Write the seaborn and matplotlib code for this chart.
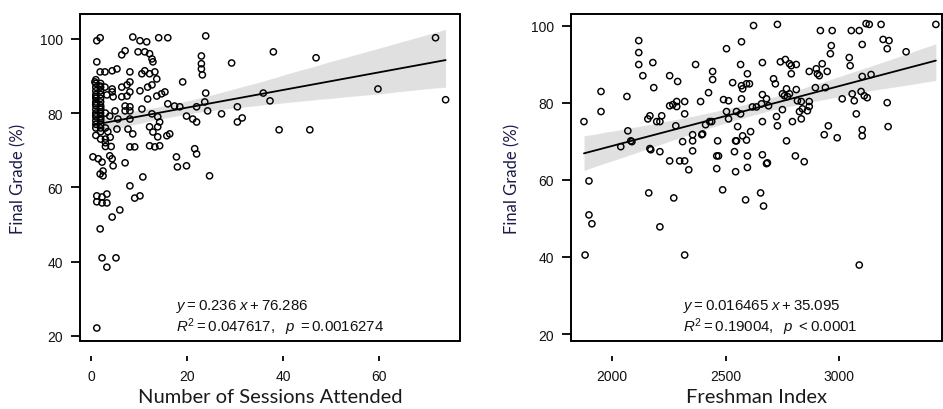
import numpy as np
import pandas as pd
import matplotlib
matplotlib.use("Agg")
import matplotlib.pyplot as plt
from matplotlib.patches import Rectangle
from matplotlib.collections import PolyCollection
from matplotlib import font_manager
import seaborn as sns

# ---------------- data ----------------
sessions = [1.2, 1.9, 8.7, 10.2, 11.6, 14.1, 16.0, 23.9,
            6.4, 7.1, 9.8, 11.2, 12.2, 12.7, 12.9, 1.2,
            23.0, 23.0, 23.0, 23.2, 29.3,
            1.9, 2.9, 4.4, 5.4, 8.1, 10.6, 11.2, 12.2, 13.3, 13.7,
            19.1,
            0.8, 1.9, 2.9, 4.4,
            6.4, 7.5, 8.1, 11.8, 12.7,
            4.4, 3.3, 4.6, 6.4, 7.5, 8.1, 10.2, 11.8, 13.7, 14.7, 15.4,
            16.0, 17.4, 18.5, 22.0, 7.1, 8.1, 7.1, 8.1, 10.6, 5.0,
            12.7, 13.9, 14.3, 19.9, 21.2, 22.0, 23.7, 24.3, 27.2, 23.9,
            3.9, 5.6, 8.1,
            30.5, 30.5, 31.5, 37.3, 35.9, 38.0, 46.9, 59.8, 71.8, 73.9, 39.2, 45.6,
            5.4, 7.7, 8.7, 12.2, 13.9, 12.9, 13.9, 15.8, 16.4,
            8.1, 9.1, 12.2, 13.3, 14.3, 21.6, 22.0,
            0.4, 1.5, 3.9, 4.4, 2.3, 2.5, 1.9, 2.5, 4.6, 7.1,
            17.8, 18.0, 19.9, 10.8, 8.1, 9.1, 10.2, 24.7,
            1.2, 2.3, 3.3, 1.2, 2.3, 3.3, 6.0, 4.4,
            1.9, 2.3, 3.3, 5.2, 1.2,
            1, 1, 1, 1, 1, 1, 1, 1, 1, 1, 1, 1, 1, 1, 1, 1, 1, 1,
            2, 2, 2, 2, 2, 2, 2, 2, 2, 2, 2, 2, 2, 2, 2, 2, 2,
            3, 3, 3, 3, 3.5, 4, 3, 4.2]
grade_sessions = [99.5, 100.3, 100.5, 99.5, 99.2, 100.3, 100.3, 100.8,
                  95.7, 96.8, 96.5, 96.5, 96.0, 94.6, 93.8, 93.8,
                  95.4, 93.3, 91.9, 90.3, 93.5,
                  91.1, 91.1, 91.4, 91.9, 91.1, 90.6, 91.4, 90.6, 91.1, 89.2,
                  88.4,
                  88.4, 87.3, 87.0, 86.5,
                  87.0, 87.6, 88.4, 87.0, 87.6,
                  85.7, 84.9, 84.4, 84.4, 84.6, 85.7, 86.0, 83.8, 84.6, 85.2, 85.7,
                  82.5, 81.9, 81.7, 81.7, 81.9, 81.7, 80.6, 80.6, 81.1, 80.6,
                  79.8, 79.0, 77.6, 79.2, 78.4, 77.6, 83.0, 80.6, 79.8, 85.4,
                  79.2, 78.4, 78.4,
                  81.7, 77.6, 78.7, 83.3, 85.4, 96.5, 94.9, 86.5, 100.3, 83.6, 75.5, 75.5,
                  75.7, 75.7, 74.4, 76.3, 76.3, 74.9, 73.6, 73.9, 74.4,
                  70.9, 70.9, 71.2, 70.9, 71.2, 70.4, 69.0,
                  68.2, 67.7, 68.5, 67.7, 66.8, 64.4, 63.6, 63.1, 65.8, 66.6,
                  68.2, 65.5, 65.8, 62.8, 60.4, 57.1, 57.7, 63.1,
                  57.7, 57.4, 58.2, 56.1, 55.8, 55.8, 53.9, 52.0,
                  48.8, 41.0, 38.5, 41.0, 22.1,
                  89, 88, 87, 86, 85, 84.5, 84, 83, 82.5, 82, 81, 80, 79.5, 79, 78, 77, 76, 74,
                  88, 87, 86, 85, 84, 83, 82, 81.5, 81, 80, 79, 78.5, 78, 77, 76, 75, 73,
                  80, 76, 73, 71, 75, 73.5, 72, 71]

freshman_index = [2623, 2570, 2504, 2118, 2118, 2118, 2136, 2180, 2368, 2566, 2662, 2443, 2443,
                  2254, 2289, 2184, 1952, 2066, 1952, 1877, 2425, 2531, 2570, 2575, 2592, 2605,
                  2596, 2570, 2662, 2680, 2658, 2636, 2618, 2689, 2491, 2513, 2390, 2320, 2285,
                  2268, 2254, 2320, 2167, 2158, 2197, 2219, 2211, 2281, 2412, 2439, 2504, 2548,
                  2566, 2513, 2662, 2553, 2610, 2575, 2592, 2070, 2083, 2039, 2167, 2211, 2355,
                  2395, 2399, 2355, 2311, 2355, 2465, 2544, 2539, 2469, 2596, 2662, 2254, 2320,
                  2338, 2461, 2544, 2596, 2680, 1899, 2162, 2272, 2487, 2654, 2588, 2667, 1899,
                  1912, 2211, 1882, 2320,
                  2728, 2917, 2969, 3053, 3088, 3118, 3132, 3184, 3425, 2965, 2961, 3101, 3193,
                  3219, 3211, 3294, 3044, 3048, 2741, 2763, 2781, 2789, 2811, 2925, 2899, 2904,
                  2912, 2947, 2868, 2789, 2711, 2719, 2895, 2939, 2768, 2781, 2759, 2811, 3101,
                  3140, 3013, 3057, 3066, 3096, 3110, 3123, 3211, 3075, 3215, 2952, 2934, 2991,
                  3101, 3101, 2750, 2772, 2816, 2833, 2868, 2868, 2750, 2825, 2838, 2860, 2794,
                  2833, 2724, 2728, 2768, 2548, 2807, 2846, 2684, 2461, 2430, 3088,
                  2088, 2171, 2298, 2285]
grade_findex = [100.0, 95.8, 94.0, 96.1, 93.0, 89.9, 87.0, 90.4, 89.9, 89.9, 90.4, 88.1, 86.0,
                87.0, 85.5, 83.9, 82.9, 81.6, 77.7, 75.1, 82.6, 85.2, 84.4, 83.6, 84.9, 84.9,
                87.5, 81.0, 82.1, 81.0, 79.7, 78.9, 78.9, 79.2, 80.8, 80.5, 80.3, 80.3, 80.3,
                79.5, 79.2, 77.1, 76.6, 75.8, 75.1, 76.6, 75.1, 74.0, 74.3, 75.1, 77.7, 77.7,
                77.1, 75.8, 75.1, 73.8, 72.5, 71.4, 70.3, 72.7, 70.1, 68.6, 68.1, 67.3, 71.7,
                71.7, 71.9, 70.1, 69.9, 67.5, 70.1, 70.1, 67.3, 66.2, 66.2, 66.5, 64.9, 64.9,
                62.6, 62.9, 62.1, 63.2, 64.2, 59.7, 56.6, 55.3, 57.4, 56.6, 54.8, 53.2, 50.9,
                48.6, 47.8, 40.5, 40.5,
                100.3, 98.7, 98.7, 98.7, 98.7, 100.5, 100.3, 100.3, 100.3, 94.8, 92.7, 95.1, 96.4,
                96.1, 94.0, 93.2, 91.7, 89.6, 90.6, 91.2, 90.1, 89.6, 89.9, 90.1, 88.8, 87.5,
                87.0, 88.1, 88.1, 87.5, 86.2, 84.9, 83.9, 83.9, 83.6, 82.3, 81.8, 83.4, 86.8,
                87.3, 81.0, 82.3, 80.5, 82.9, 81.8, 81.3, 80.0, 77.1, 73.8, 74.0, 71.7, 70.9,
                73.0, 71.4, 82.3, 81.6, 80.5, 80.3, 80.3, 79.0, 78.2, 77.7, 78.4, 77.9, 75.1,
                75.8, 76.4, 74.0, 70.1, 70.1, 66.2, 64.7, 64.4, 66.2, 75.1, 37.9,
                69.9, 67.8, 64.9, 79.0]

left_xticks = [0, 20, 40, 60]
right_xticks = [2000, 2500, 3000]
grade_ticks = [20, 40, 60, 80, 100]
left_eq = [r"$y = 0.236\ x + 76.286$", r"$R^2 = 0.047617,\ \ p\ = 0.0016274$"]
right_eq = [r"$y = 0.016465\ x + 35.095$", r"$R^2 = 0.19004,\ \ p\ < 0.0001$"]

df_left = pd.DataFrame({"Sessions": sessions, "Grade": grade_sessions})
df_right = pd.DataFrame({"Index": freshman_index, "Grade": grade_findex})

# ---------------- style ----------------
sns.set_style("white")
plt.rcParams["font.family"] = ["Liberation Sans", "DejaVu Sans"]
names = {f.name for f in font_manager.fontManager.ttflist}
narrow = "Liberation Sans Narrow" if "Liberation Sans Narrow" in names else "Liberation Sans"
plt.rcParams["mathtext.fontset"] = "custom"
plt.rcParams["mathtext.rm"] = narrow
plt.rcParams["mathtext.it"] = narrow + ":italic"
plt.rcParams["mathtext.bf"] = narrow + ":bold"
label_font = "Lato" if "Lato" in names else "DejaVu Sans"

fig = plt.figure(figsize=(9.43, 4.10), dpi=100)
ax1 = fig.add_axes([80 / 943, 1 - 342 / 410, 380 / 943, 327 / 410])
ax2 = fig.add_axes([571 / 943, 1 - 342 / 410, 371 / 943, 327 / 410])

scatter_kws = dict(facecolors="none", s=20, linewidths=1.05, alpha=1, zorder=3)
line_kws = dict(lw=1.3, zorder=4)

sns.regplot(data=df_left, x="Sessions", y="Grade", ax=ax1, color="black", ci=95,
            seed=1, scatter_kws=scatter_kws, line_kws=line_kws)
sns.regplot(data=df_right, x="Index", y="Grade", ax=ax2, color="black", ci=95,
            seed=1, scatter_kws=scatter_kws, line_kws=line_kws)

ax1.set_xlim(-2.3, 76.9)
ax1.set_ylim(18.6, 106.7)
ax2.set_xlim(1820, 3452)
ax2.set_ylim(18.2, 103.0)

for ax, xt, xl, ylx, eq, ex in [
        (ax1, left_xticks, "Number of Sessions Attended", -0.14, left_eq, 0.253),
        (ax2, right_xticks, "Freshman Index", -0.135, right_eq, 0.302)]:
    for coll in ax.collections:
        if isinstance(coll, PolyCollection):
            coll.set_alpha(0.12)
            coll.set_zorder(1)
    for s in ax.spines.values():
        s.set_visible(False)
    ax.spines["bottom"].set_position(("outward", 11))
    ax.add_patch(Rectangle((0, 0), 1, 1, transform=ax.transAxes, fill=False,
                           lw=1.4, ec="black", clip_on=False, zorder=6))
    ax.set_xticks(xt)
    ax.set_yticks(grade_ticks)
    ax.tick_params(axis="y", left=True, direction="out", length=6.5, width=1.3,
                   pad=6, labelsize=10, color="black", labelcolor="#111111")
    ax.tick_params(axis="x", bottom=True, direction="out", length=3.5, width=1.3,
                   pad=6, labelsize=10, color="black", labelcolor="#111111")
    ax.set_xlabel(xl, fontfamily=label_font, fontsize=14.5, color="#1a1a1a")
    ax.set_ylabel("Final Grade (%)", fontfamily=label_font, fontsize=12, color="#1c1c48")
    ax.xaxis.set_label_coords(0.5, -0.145)
    ax.yaxis.set_label_coords(ylx, 0.5)
    ax.text(ex, 0.098, eq[0], transform=ax.transAxes, ha="left", va="baseline",
            fontsize=10.8, color="#111111")
    ax.text(ex, 0.030, eq[1], transform=ax.transAxes, ha="left", va="baseline",
            fontsize=10.8, color="#111111")

fig.savefig("out.png", dpi=100, facecolor="white")
